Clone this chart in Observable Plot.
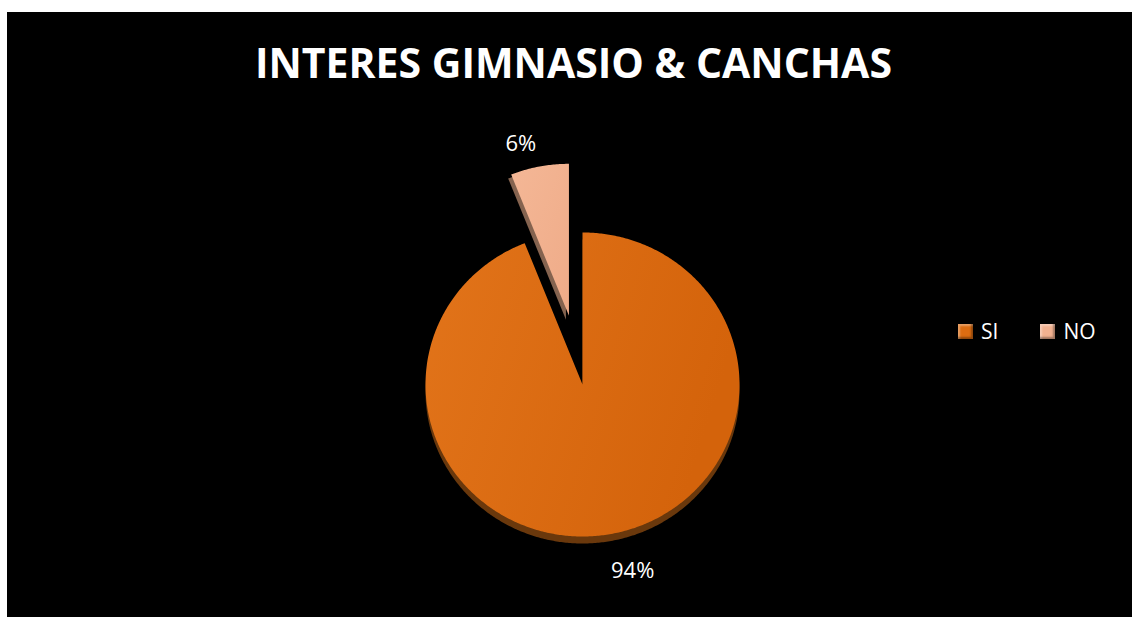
<!DOCTYPE html>
<html>
<head>
<meta charset="utf-8">
<script src="https://cdn.jsdelivr.net/npm/d3@7"></script>
<script src="https://cdn.jsdelivr.net/npm/@observablehq/plot@0.6"></script>
<style>
  html, body { margin: 0; padding: 0; background: #ffffff; }
  #frame { position: absolute; left: 7px; top: 12px; width: 1125px; height: 605px; background: #000; overflow: hidden; font-family: "Open Sans", sans-serif; }
  #title { position: absolute; top: 29px; left: 4px; width: 1125px; text-align: center; color: #fff; font-weight: 700; font-size: 42px; line-height: 42px; white-space: nowrap; }
  #title span { display: inline-block; transform-origin: center; }
  #chart { position: absolute; left: 0; top: 0; }
  #legend { position: absolute; top: 307px; left: 951px; color: #fff; font-size: 21px; line-height: 24px; display: flex; gap: 0; }
  .item { display: flex; align-items: center; }
  .sw { width: 15px; height: 15px; margin-right: 8px; box-sizing: border-box; }
  .lab { display: inline-block; }
</style>
</head>
<body>
<div id="frame">
  <div id="title"><span id="titletext"></span></div>
  <div id="chart"></div>
  <div id="legend"></div>
</div>
<script>
// ---- data ----
const chartTitle = "INTERES GIMNASIO & CANCHAS";
const categories = ["SI", "NO"];
const values = [94, 6];
const labels = ["94%", "6%"];
const colors = ["#dc6c11", "#f2b190"];
const sideColors = ["#6a380c", "#85634f"];
const explode = [0, 0.46];

// ---- title ----
const tt = document.getElementById("titletext");
tt.textContent = chartTitle;
const w = tt.getBoundingClientRect().width;
tt.style.transform = `scaleX(${637 / w})`;

// ---- legend ----
const legend = document.getElementById("legend");
categories.forEach((c, i) => {
  const it = document.createElement("div");
  it.className = "item";
  it.style.marginRight = i === 0 ? "42px" : "0";
  const sw = document.createElement("div");
  sw.className = "sw";
  sw.style.background = colors[i];
  sw.style.boxShadow = "inset -2px -2px 2px rgba(0,0,0,0.35), inset 2px 2px 2px rgba(255,255,255,0.35)";
  const lab = document.createElement("span");
  lab.className = "lab";
  lab.textContent = c;
  it.appendChild(sw); it.appendChild(lab);
  legend.appendChild(it);
});

// ---- pie geometry from data ----
const total = d3.sum(values);
const slices = [];
let acc = 0;
values.forEach((v, i) => {
  const a0 = acc / total * 2 * Math.PI;
  acc += v;
  const a1 = acc / total * 2 * Math.PI;
  const mid = (a0 + a1) / 2;
  const ox = Math.sin(mid) * explode[i];
  const oy = Math.cos(mid) * explode[i];
  slices.push({cat: categories[i], i, a0, a1, mid, ox, oy});
});
const pts = [];
slices.forEach(s => {
  pts.push({cat: s.cat, i: s.i, x: s.ox, y: s.oy});
  const n = Math.max(8, Math.ceil((s.a1 - s.a0) / 0.01));
  for (let k = 0; k <= n; k++) {
    const a = s.a0 + (s.a1 - s.a0) * k / n;
    pts.push({cat: s.cat, i: s.i, x: s.ox + Math.sin(a), y: s.oy + Math.cos(a)});
  }
  pts.push({cat: s.cat, i: s.i, x: s.ox, y: s.oy});
});
const siPts = pts.filter(p => p.i === 0);
const noPts = pts.filter(p => p.i === 1);
const labelR = 1.23;
const labelData = slices.map(s => ({
  i: s.i,
  text: labels[s.i],
  x: s.ox + Math.sin(s.mid) * labelR,
  y: s.oy + Math.cos(s.mid) * labelR
}));

const defs = () => {
  const g = d3.create("svg:defs");
  const lg = g.append("linearGradient").attr("id", "siGrad").attr("x1", "0").attr("y1", "0").attr("x2", "1").attr("y2", "0.3");
  lg.append("stop").attr("offset", "0").attr("stop-color", "#e2741a");
  lg.append("stop").attr("offset", "1").attr("stop-color", "#d4630b");
  const lg2 = g.append("linearGradient").attr("id", "noGrad").attr("x1", "0").attr("y1", "0").attr("x2", "1").attr("y2", "1");
  lg2.append("stop").attr("offset", "0").attr("stop-color", "#f4b796");
  lg2.append("stop").attr("offset", "1").attr("stop-color", "#efab88");
  return g.node();
};

const textOpts = {x: "x", y: "y", text: "text", fill: "#ffffff", fontSize: 22, fontFamily: "Open Sans", textAnchor: "middle"};

const plot = Plot.plot({
  width: 1125,
  height: 605,
  margin: 0,
  style: {background: "transparent", overflow: "visible"},
  x: {domain: [-1, 1], range: [418, 732], axis: null},
  y: {domain: [-1, 1], range: [524, 220], axis: null},
  marks: [
    defs,
    Plot.line(siPts, {x: "x", y: "y", fill: sideColors[0], stroke: "none", dy: 7, curve: "linear"}),
    Plot.line(siPts, {x: "x", y: "y", fill: "url(#siGrad)", stroke: "none", curve: "linear"}),
    Plot.line(noPts, {x: "x", y: "y", fill: sideColors[1], stroke: "none", dx: -3, dy: 4, curve: "linear"}),
    Plot.line(noPts, {x: "x", y: "y", fill: "url(#noGrad)", stroke: "none", curve: "linear"}),
    Plot.text(labelData.filter(d => d.i === 0), {...textOpts, dx: 14, dy: 3}),
    Plot.text(labelData.filter(d => d.i === 1), {...textOpts, dx: -12, dy: 12})
  ]
});
document.getElementById("chart").appendChild(plot);
</script>
</body>
</html>
